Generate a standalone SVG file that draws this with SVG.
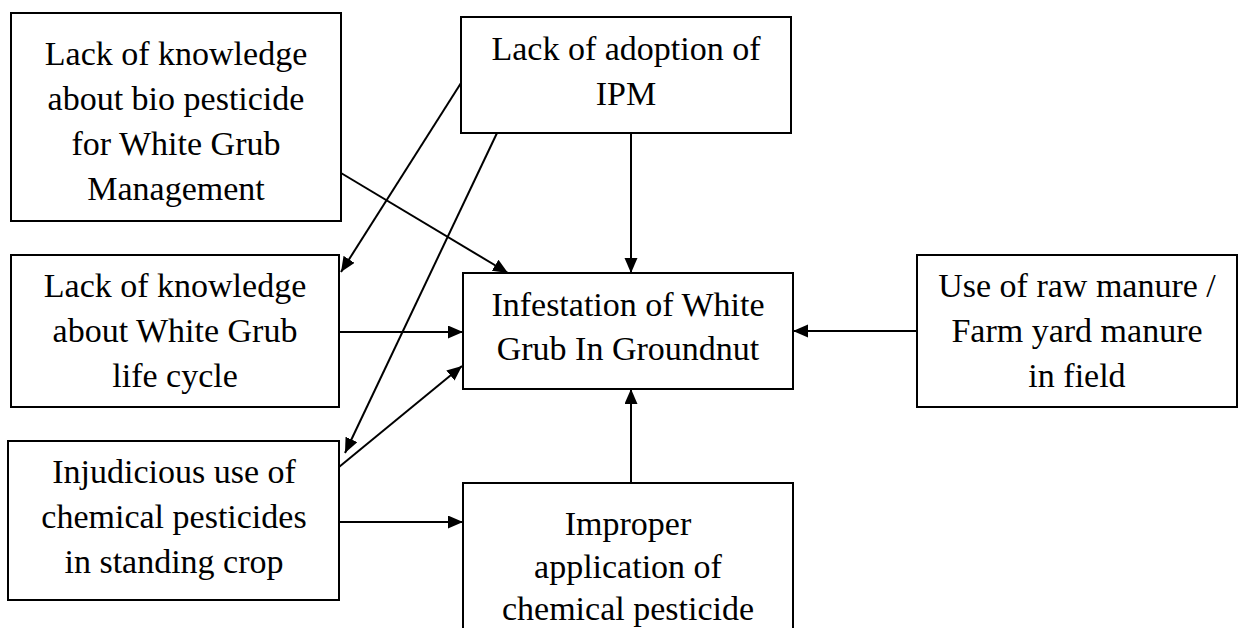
<svg xmlns="http://www.w3.org/2000/svg" width="1238" height="628" viewBox="0 0 1238 628">
<style>
.box{fill:#fff;stroke:#000;stroke-width:2}
.t{font-size:34px;fill:#000;text-anchor:middle}
.c{fill:none;stroke:#000;stroke-width:2;marker-end:url(#ah)}
</style>
<defs>
<marker id="ah" markerUnits="userSpaceOnUse" markerWidth="16" markerHeight="14" refX="15" refY="6.5" orient="auto">
<path d="M0,0 L15,6.5 L0,13 z" fill="#000"/>
</marker>
</defs>
<rect width="1238" height="628" fill="#fff"/>
<g id="connectors">
<line class="c" x1="341" y1="173" x2="508" y2="273"/>
<line class="c" x1="461" y1="83" x2="341" y2="272"/>
<line class="c" x1="497" y1="133" x2="345" y2="453"/>
<line class="c" x1="631" y1="133" x2="631" y2="273"/>
<line class="c" x1="339" y1="332" x2="463" y2="332"/>
<line class="c" x1="339" y1="467" x2="462" y2="366"/>
<line class="c" x1="917" y1="331" x2="793" y2="331"/>
<line class="c" x1="631" y1="483" x2="631" y2="389"/>
<line class="c" x1="339" y1="522" x2="463" y2="522"/>
</g>
<g font-family="Liberation Serif, DejaVu Serif, serif">
<g id="bio">
<rect class="box" x="11" y="13" width="330" height="208"/>
<text class="t" x="176" y="65">Lack of knowledge</text>
<text class="t" x="176" y="110">about bio pesticide</text>
<text class="t" x="176" y="155">for White Grub</text>
<text class="t" x="176" y="200">Management</text>
</g>
<g id="ipm">
<rect class="box" x="461" y="17" width="330" height="116"/>
<text class="t" x="626" y="60">Lack of adoption of</text>
<text class="t" x="626" y="105">IPM</text>
</g>
<g id="lifecycle">
<rect class="box" x="11" y="255" width="328" height="152"/>
<text class="t" x="175" y="297">Lack of knowledge</text>
<text class="t" x="175" y="342">about White Grub</text>
<text class="t" x="175" y="387">life cycle</text>
</g>
<g id="infestation">
<rect class="box" x="463" y="273" width="330" height="116"/>
<text class="t" x="628" y="316">Infestation of White</text>
<text class="t" x="628" y="360">Grub In Groundnut</text>
</g>
<g id="manure">
<rect class="box" x="917" y="255" width="320" height="152"/>
<text class="t" x="1077" y="297">Use of raw manure /</text>
<text class="t" x="1077" y="342">Farm yard manure</text>
<text class="t" x="1077" y="387">in field</text>
</g>
<g id="injudicious">
<rect class="box" x="8" y="441" width="331" height="159"/>
<text class="t" x="174" y="483">Injudicious use of</text>
<text class="t" x="174" y="528">chemical pesticides</text>
<text class="t" x="174" y="573">in standing crop</text>
</g>
<g id="improper">
<rect class="box" x="463" y="483" width="330" height="160"/>
<text class="t" x="628" y="535">Improper</text>
<text class="t" x="628" y="578">application of</text>
<text class="t" x="628" y="620">chemical pesticide</text>
</g>
</g>
</svg>
